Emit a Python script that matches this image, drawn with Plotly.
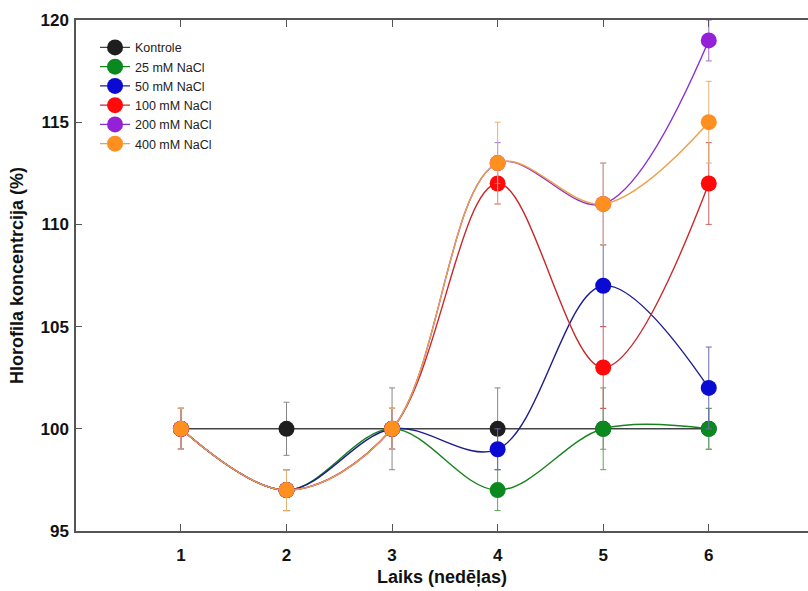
import plotly.graph_objects as go

weeks = [1, 2, 3, 4, 5, 6]
series_names = ["Kontrole", "25 mM NaCl", "50 mM NaCl", "100 mM NaCl", "200 mM NaCl", "400 mM NaCl"]
kontrole = [100, 100, 100, 100, 100, 100]
nacl_25 = [100, 97, 100, 97, 100, 100]
nacl_50 = [100, 97, 100, 99, 107, 102]
nacl_100 = [100, 97, 100, 112, 103, 112]
nacl_200 = [100, 97, 100, 113, 111, 119]
nacl_400 = [100, 97, 100, 113, 111, 115]

err_kontrole = [1, 1.3, 2, 2, 1, 1]
err_25 = [1, 1, 1, 1, 2, 1]
err_50 = [1, 1, 1, 1, 2, 2]
err_100 = [1, 1, 1, 1, 2, 2]
err_200 = [1, 1, 1, 1, 2, 1]
err_400 = [1, 1, 1, 2, 2, 2]

values = [kontrole, nacl_25, nacl_50, nacl_100, nacl_200, nacl_400]
errors = [err_kontrole, err_25, err_50, err_100, err_200, err_400]
marker_colors = ["#1e1e1e", "#0a8a1e", "#0a0ad2", "#ff0a0a", "#9420d8", "#ff9020"]
line_colors = ["#444444", "#18821e", "#1c1c8c", "#c8282a", "#8a30d0", "#eca048"]
err_colors = ["#888888", "#5aa85a", "#6a6ab4", "#d06060", "#a070d0", "#e8b070"]
shapes = ["linear", "spline", "spline", "spline", "spline", "spline"]

fig = go.Figure()
for name, y, e, mc, lc, ec, sh in zip(series_names, values, errors, marker_colors, line_colors, err_colors, shapes):
    fig.add_trace(go.Scatter(
        x=weeks, y=y, name=name, mode="lines+markers",
        line=dict(color=lc, width=1.4, shape=sh, smoothing=1.0),
        marker=dict(color=mc, size=16),
        error_y=dict(type="data", array=e, visible=True, color=ec, thickness=1, width=3),
    ))

fig.update_layout(
    width=808, height=591,
    margin=dict(l=76, r=0, t=20, b=60),
    plot_bgcolor="white", paper_bgcolor="white",
    font=dict(family="Liberation Sans, Arial, sans-serif", color="#111111"),
    legend=dict(x=0.026, y=0.975, xanchor="left", yanchor="top",
                font=dict(size=12.5, color="#222222"), bgcolor="rgba(0,0,0,0)",
                tracegroupgap=0, itemwidth=30),
    showlegend=True,
)
fig.update_xaxes(
    range=[0.006, 6.94], tickvals=weeks, ticktext=[str(w) for w in weeks],
    showgrid=False, zeroline=False, showline=True, linecolor="#555555", linewidth=1.5,
    mirror="allticks", ticks="inside", ticklen=7, tickcolor="#555555",
    tickfont=dict(size=17, weight="bold", color="#111111"), ticklabelstandoff=8,
    title=dict(text="Laiks (nedēļas)", font=dict(size=18, weight="bold", color="#111111"), standoff=6),
)
fig.update_yaxes(
    range=[95, 120], tickvals=[95, 100, 105, 110, 115, 120],
    showgrid=False, zeroline=False, showline=True, linecolor="#555555", linewidth=1.5,
    ticks="inside", ticklen=6, tickcolor="#555555",
    tickfont=dict(size=17, weight="bold", color="#111111"), ticklabelstandoff=2,
    title=dict(text="Hlorofila koncentrcija (%)", font=dict(size=18, weight="bold", color="#111111"), standoff=12),
)

fig.write_html("out.html")
